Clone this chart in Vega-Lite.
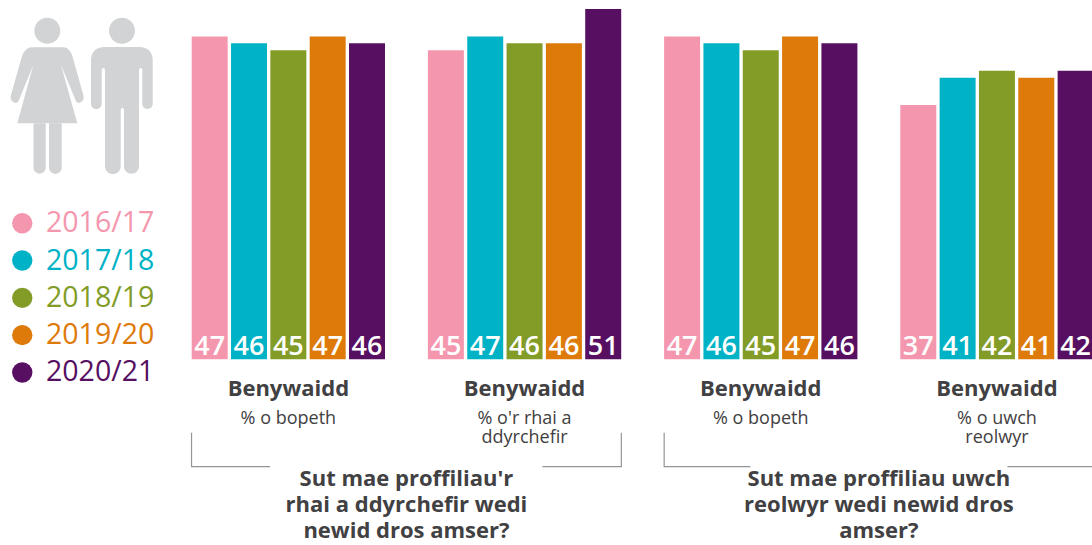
{
  "$schema": "https://vega.github.io/schema/vega-lite/v6.json",
  "width": 1092,
  "height": 545,
  "autosize": "none",
  "padding": 0,
  "background": "white",
  "config": {"view": {"stroke": null}, "font": "Open Sans"},
  "datasets": {
    "bars": [
      {"group": "Dyrchafiadau: pawb", "year": "2016/17", "value": 47},
      {"group": "Dyrchafiadau: pawb", "year": "2017/18", "value": 46},
      {"group": "Dyrchafiadau: pawb", "year": "2018/19", "value": 45},
      {"group": "Dyrchafiadau: pawb", "year": "2019/20", "value": 47},
      {"group": "Dyrchafiadau: pawb", "year": "2020/21", "value": 46},
      {"group": "Dyrchafiadau: dyrchafwyd", "year": "2016/17", "value": 45},
      {"group": "Dyrchafiadau: dyrchafwyd", "year": "2017/18", "value": 47},
      {"group": "Dyrchafiadau: dyrchafwyd", "year": "2018/19", "value": 46},
      {"group": "Dyrchafiadau: dyrchafwyd", "year": "2019/20", "value": 46},
      {"group": "Dyrchafiadau: dyrchafwyd", "year": "2020/21", "value": 51},
      {"group": "Uwch reolwyr: pawb", "year": "2016/17", "value": 47},
      {"group": "Uwch reolwyr: pawb", "year": "2017/18", "value": 46},
      {"group": "Uwch reolwyr: pawb", "year": "2018/19", "value": 45},
      {"group": "Uwch reolwyr: pawb", "year": "2019/20", "value": 47},
      {"group": "Uwch reolwyr: pawb", "year": "2020/21", "value": 46},
      {"group": "Uwch reolwyr: uwch", "year": "2016/17", "value": 37},
      {"group": "Uwch reolwyr: uwch", "year": "2017/18", "value": 41},
      {"group": "Uwch reolwyr: uwch", "year": "2018/19", "value": 42},
      {"group": "Uwch reolwyr: uwch", "year": "2019/20", "value": 41},
      {"group": "Uwch reolwyr: uwch", "year": "2020/21", "value": 42}
    ],
    "groups": [
      {"group": "Dyrchafiadau: pawb", "head": "Benywaidd", "sub": ["% o bopeth"]},
      {"group": "Dyrchafiadau: dyrchafwyd", "head": "Benywaidd", "sub": ["% o'r rhai a", "ddyrchefir"]},
      {"group": "Uwch reolwyr: pawb", "head": "Benywaidd", "sub": ["% o bopeth"]},
      {"group": "Uwch reolwyr: uwch", "head": "Benywaidd", "sub": ["% o uwch", "reolwyr"]}
    ],
    "sections": [
      {"section": "Dyrchafiadau", "question": ["Sut mae proffiliau'r", "rhai a ddyrchefir wedi", "newid dros amser?"]},
      {"section": "Uwch reolwyr", "question": ["Sut mae proffiliau uwch", "reolwyr wedi newid dros", "amser?"]}
    ]
  },
  "layer": [
    {
      "layer": [
        {
          "data": {"name": "bars"},
          "mark": {"type": "bar", "cornerRadius": 0},
          "encoding": {
            "x": {
              "field": "group",
              "type": "nominal",
              "axis": null,
              "sort": null,
              "scale": {
                "type": "band",
                "domain": ["Pobl", "Dyrchafiadau: pawb", "Dyrchafiadau: dyrchafwyd", "Uwch reolwyr: pawb", "Uwch reolwyr: uwch"],
                "range": [-44.5, 1093.6],
                "paddingInner": 0.1816,
                "paddingOuter": 0
              }
            },
            "xOffset": {
              "field": "year",
              "type": "nominal",
              "sort": null,
              "scale": {"paddingInner": 0.085, "paddingOuter": 0}
            },
            "y": {
              "field": "value",
              "type": "quantitative",
              "axis": null,
              "scale": {"domain": [0, 52.3], "range": [359.3, 0], "nice": false}
            },
            "color": {
              "field": "year",
              "type": "nominal",
              "scale": {
                "domain": ["2016/17", "2017/18", "2018/19", "2019/20", "2020/21"],
                "range": ["#f497ae", "#00b2c5", "#829c27", "#de7a09", "#560f61"]
              },
              "legend": {
                "title": null,
                "orient": "none",
                "legendX": 8,
                "legendY": 209,
                "symbolType": "circle",
                "symbolSize": 415,
                "symbolStrokeWidth": 0,
                "labelFontSize": 28.5,
                "labelOffset": 9.5,
                "rowPadding": 8.3,
                "labelLimit": 200,
                "labelColor": {"expr": "scale('color', datum.value)"}
              }
            }
          }
        },
        {
          "data": {"name": "bars"},
          "mark": {"type": "text", "color": "white", "fontSize": 27, "fontWeight": 600, "align": "center", "baseline": "alphabetic", "dy": -4},
          "encoding": {
            "x": {"field": "group", "type": "nominal", "axis": null},
            "xOffset": {"field": "year", "type": "nominal", "sort": null},
            "y": {"datum": 0, "type": "quantitative"},
            "text": {"field": "value", "type": "quantitative"}
          }
        },
        {
          "data": {"name": "groups"},
          "mark": {"type": "text", "color": "#414042", "fontSize": 22, "fontWeight": "bold", "align": "center", "baseline": "alphabetic", "dy": 37},
          "encoding": {
            "x": {"field": "group", "type": "nominal", "axis": null},
            "y": {"datum": 0, "type": "quantitative"},
            "text": {"field": "head", "type": "nominal"}
          }
        },
        {
          "data": {"name": "groups"},
          "mark": {"type": "text", "color": "#414042", "fontSize": 18, "lineHeight": 19, "align": "center", "baseline": "alphabetic", "dy": 65},
          "encoding": {
            "x": {"field": "group", "type": "nominal", "axis": null},
            "y": {"datum": 0, "type": "quantitative"},
            "text": {"field": "sub"}
          }
        },
        {
          "data": {"values": [{"figures": "Pobl"}]},
          "mark": {
            "type": "point",
            "filled": true,
            "size": 4,
            "opacity": 1,
            "color": "#d1d3d4",
            "shape": "M-17.85 30.7a13 13 0 1 0 26 0a13 13 0 1 0 -26 0ZM-20.45 47.3L11.15 47.3Q17.5 47.3 20.55 57L31.15 95Q32.5 100.5 28 102.6Q24.5 104 23.35 100L8.85 65L25.15 123.3L-34.85 123.3L-18.85 65L-33.15 100Q-34.5 104 -38 102.6Q-42.5 100.5 -41.15 95L-30.45 57Q-27 47.3 -20.45 47.3ZM-18.65 123V167.6a6.1 6.1 0 0 0 12.2 0V123ZM-3.15 123V167.6a6.35 6.35 0 0 0 12.7 0V123ZM56.85 30.7a13 13 0 1 0 26 0a13 13 0 1 0 -26 0ZM52.85 47H86.85Q100.55 47 100.55 61V103.7a5.2 5.2 0 0 1 -10.4 0V70Q90.15 68 88.5 68Q86.85 68 86.85 70V166.2a7.5 7.5 0 0 1 -15 0V110Q71.85 108 70.2 108Q68.55 108 68.55 110V166.2a7.85 7.85 0 0 1 -15.7 0V70Q52.85 68 51.2 68Q49.55 68 49.55 70V103.7a5.35 5.35 0 0 1 -10.7 0V61Q38.85 47 52.85 47Z"
          },
          "encoding": {
            "x": {"field": "figures", "type": "nominal", "axis": null},
            "y": {"datum": 52.3, "type": "quantitative"}
          }
        }
      ]
    },
    {
      "data": {"name": "sections"},
      "layer": [
        {
          "mark": {"type": "point", "filled": false, "size": 4, "opacity": 1, "stroke": "#939598", "strokeWidth": 1.2},
          "encoding": {
            "x": {
              "field": "section",
              "type": "nominal",
              "axis": null,
              "scale": {"type": "band", "domain": ["Dyrchafiadau", "Uwch reolwyr"], "range": [191.7, 1093.6], "paddingInner": 0.0909, "paddingOuter": 0}
            },
            "y": {"datum": 0, "type": "quantitative"},
            "shape": {
              "field": "section",
              "type": "nominal",
              "legend": null,
              "scale": {
                "domain": ["Dyrchafiadau", "Uwch reolwyr"],
                "range": [
                  "M-214.9 73.4V107.4H-136.4M136 107.4H214.9V73.4",
                  "M-214.7 73.4V107.4H-128.4M128.6 107.4H214.9V73.4"
                ]
              }
            }
          }
        },
        {
          "mark": {"type": "text", "color": "#414042", "fontSize": 22, "fontWeight": "bold", "lineHeight": 26, "align": "center", "baseline": "alphabetic", "dy": 127},
          "encoding": {
            "x": {"field": "section", "type": "nominal", "axis": null},
            "y": {"datum": 0, "type": "quantitative"},
            "text": {"field": "question"}
          }
        }
      ]
    }
  ],
  "resolve": {"scale": {"x": "independent", "shape": "independent"}}
}
